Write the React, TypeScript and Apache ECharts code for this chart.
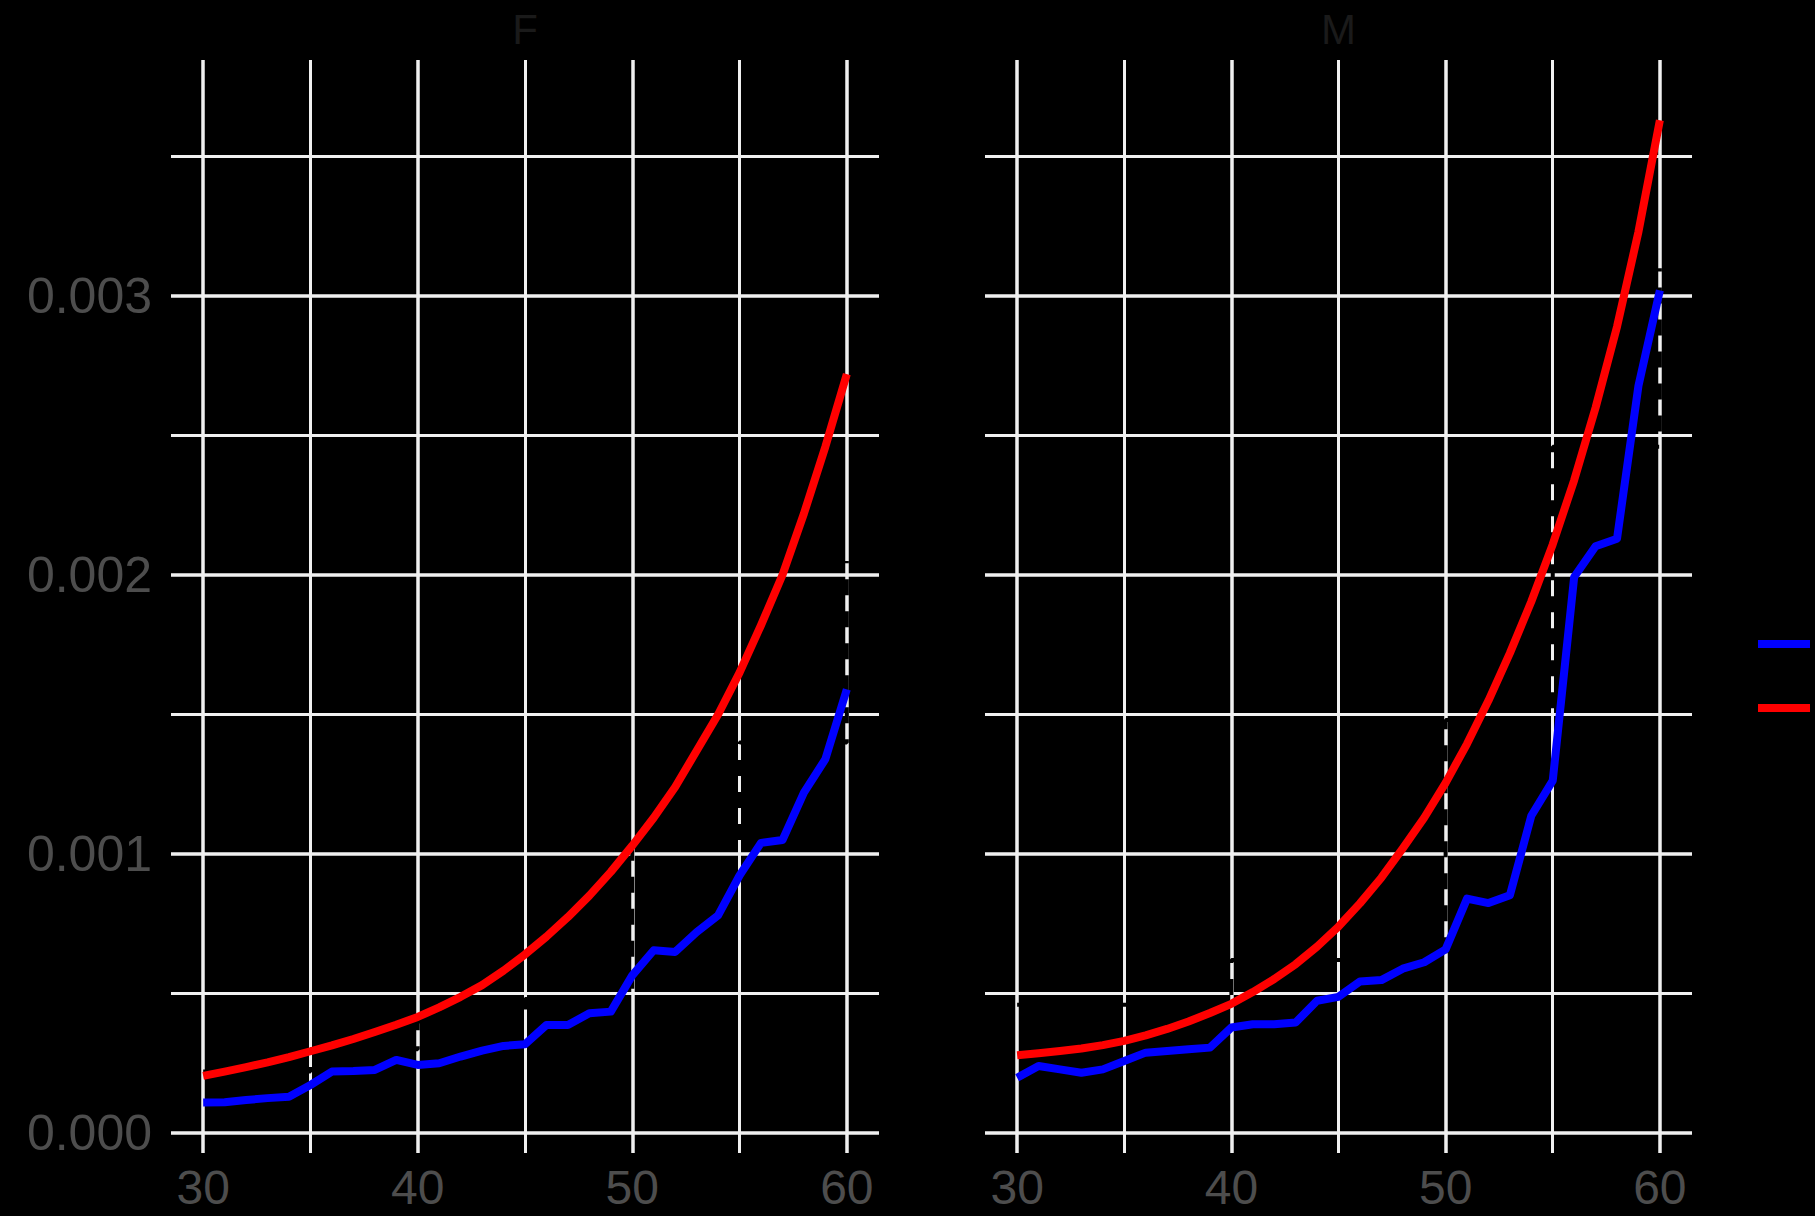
import React, { useEffect, useRef } from "react";
import * as echarts from "echarts";

// ---- data ----
const ages = [30, 31, 32, 33, 34, 35, 36, 37, 38, 39, 40, 41, 42, 43, 44, 45, 46, 47, 48, 49, 50, 51, 52, 53, 54, 55, 56, 57, 58, 59, 60];

const femaleObserved = [
  0.000109, 0.00011, 0.000118, 0.000125, 0.00013, 0.000172, 0.00022, 0.000222, 0.000226, 0.000262,
  0.000244, 0.00025, 0.000274, 0.000295, 0.000312, 0.000318, 0.000387, 0.000387, 0.000429, 0.000435,
  0.000565, 0.000655, 0.000649, 0.00072, 0.00078, 0.000923, 0.00104, 0.00105, 0.00122, 0.00134, 0.00159,
];
const femaleFitted = [
  0.000205, 0.00022, 0.000236, 0.000253, 0.000272, 0.000293, 0.000314, 0.000337, 0.000362, 0.000388,
  0.000416, 0.00045, 0.000488, 0.00053, 0.000582, 0.00064, 0.000704, 0.000774, 0.000851, 0.000936,
  0.00103, 0.00113, 0.00124, 0.00137, 0.0015, 0.00165, 0.00182, 0.002, 0.00222, 0.00246, 0.00272,
];
const maleObserved = [
  0.000198, 0.00024, 0.000228, 0.000216, 0.000228, 0.000258, 0.000288, 0.000294, 0.0003, 0.000306,
  0.000378, 0.00039, 0.00039, 0.000396, 0.000474, 0.000488, 0.000543, 0.000548, 0.000589, 0.000612,
  0.000658, 0.00084, 0.000824, 0.000852, 0.001137, 0.001263, 0.001993, 0.002103, 0.00213, 0.002678, 0.00302,
];
const maleFitted = [
  0.000279, 0.000286, 0.000294, 0.000303, 0.000315, 0.00033, 0.00035, 0.000373, 0.0004, 0.00043,
  0.000463, 0.000505, 0.000552, 0.000605, 0.000668, 0.00074, 0.000823, 0.000915, 0.00102, 0.00113,
  0.001255, 0.001395, 0.00155, 0.00172, 0.001905, 0.00211, 0.00234, 0.0026, 0.00289, 0.00323, 0.00363,
];

// black dashed step line (5-year groups)
const stepAges = [30, 35, 40, 45, 50, 55, 60];
const femaleStep = [0.00022, 0.0003, 0.0004, 0.00048, 0.00103, 0.0014, 0.00205];
const maleStep = [0.00046, 0.00046, 0.00062, 0.00062, 0.00148, 0.00246, 0.0031];

const facetNames = ["F", "M"];
const seriesNames = ["observed", "fitted"];

const xMajorTicks = [30, 40, 50, 60];
const xMinorTicks = [35, 45, 55];
const yMajorTicks = [0, 0.001, 0.002, 0.003];
const yMinorTicks = [0.0005, 0.0015, 0.0025, 0.0035];

const X_MIN = 28.5;
const X_MAX = 61.5;
const Y_MIN = -0.0000717;
const Y_MAX = 0.003846;

const FONT = "'Liberation Sans', Arial, Helvetica, sans-serif";
const LABEL_COLOR = "#4d4d4d";
const GRID_COLOR = "#f0f0f0";

function pairs(xs: number[], ys: number[]) {
  return xs.map((x, i) => [x, ys[i]]);
}

export default function App() {
  const ref = useRef<HTMLDivElement>(null);

  useEffect(() => {
    if (!ref.current) return;
    const chart = echarts.init(ref.current, undefined, { renderer: "svg" });

    const grids = [
      { left: 171, top: 60, width: 708, height: 1093 },
      { left: 985, top: 60, width: 707, height: 1093 },
    ];

    const xAxes: any[] = [];
    const yAxes: any[] = [];
    grids.forEach((_, g) => {
      xAxes.push({
        gridIndex: g,
        type: "value",
        min: X_MIN,
        max: X_MAX,
        axisLine: { show: false },
        axisTick: { show: false, customValues: xMajorTicks },
        axisLabel: {
          show: true,
          customValues: xMajorTicks,
          color: LABEL_COLOR,
          fontSize: 48,
          lineHeight: 42,
          fontFamily: FONT,
          margin: 13,
          formatter: (v: number) => String(Math.round(v)),
        },
        splitLine: { show: true, lineStyle: { color: GRID_COLOR, width: 3.5 } },
      });
      xAxes.push({
        gridIndex: g,
        type: "value",
        position: "top",
        min: X_MIN,
        max: X_MAX,
        axisLine: { show: false },
        axisTick: { show: false, customValues: xMinorTicks },
        axisLabel: { show: false },
        splitLine: { show: true, lineStyle: { color: GRID_COLOR, width: 3 } },
      });
      yAxes.push({
        gridIndex: g,
        type: "value",
        min: Y_MIN,
        max: Y_MAX,
        axisLine: { show: false },
        axisTick: { show: false, customValues: yMajorTicks },
        axisLabel: {
          show: g === 0,
          customValues: yMajorTicks,
          color: LABEL_COLOR,
          fontSize: 50,
          fontFamily: FONT,
          margin: 19,
          formatter: (v: number) => v.toFixed(3),
        },
        splitLine: { show: true, lineStyle: { color: GRID_COLOR, width: 3.5 } },
      });
      yAxes.push({
        gridIndex: g,
        type: "value",
        position: "right",
        min: Y_MIN,
        max: Y_MAX,
        axisLine: { show: false },
        axisTick: { show: false, customValues: yMinorTicks },
        axisLabel: { show: false },
        splitLine: { show: true, lineStyle: { color: GRID_COLOR, width: 3 } },
      });
    });

    const panels = [
      { observed: femaleObserved, fitted: femaleFitted, step: femaleStep },
      { observed: maleObserved, fitted: maleFitted, step: maleStep },
    ];

    const series: any[] = [];
    panels.forEach((p, g) => {
      const xi = g * 2;
      const yi = g * 2;
      series.push({
        name: "step",
        type: "line",
        xAxisIndex: xi,
        yAxisIndex: yi,
        data: pairs(stepAges, p.step),
        step: "end",
        showSymbol: false,
        symbol: "none",
        lineStyle: { color: "#000000", width: 4, type: [16, 16] },
        itemStyle: { color: "#000000" },
        z: 2,
        silent: true,
      });
      series.push({
        name: seriesNames[0],
        type: "line",
        xAxisIndex: xi,
        yAxisIndex: yi,
        data: pairs(ages, p.observed),
        showSymbol: false,
        symbol: "none",
        lineStyle: { color: "#0000ff", width: 8, join: "round", cap: "butt" },
        itemStyle: { color: "#0000ff" },
        z: 3,
        silent: true,
      });
      series.push({
        name: seriesNames[1],
        type: "line",
        xAxisIndex: xi,
        yAxisIndex: yi,
        data: pairs(ages, p.fitted),
        showSymbol: false,
        symbol: "none",
        lineStyle: { color: "#ff0000", width: 8, join: "round", cap: "butt" },
        itemStyle: { color: "#ff0000" },
        z: 4,
        silent: true,
      });
    });

    // legend keys only: the labels lie beyond the right edge of the reference
    const legendBase = {
      orient: "vertical",
      left: 1758,
      padding: 0,
      itemGap: 0,
      itemWidth: 52,
      itemHeight: 8,
      selectedMode: false,
      formatter: () => "",
      textStyle: { color: "#000000", fontSize: 7, fontFamily: FONT },
    };

    chart.setOption({
      animation: false,
      backgroundColor: "#000000",
      grid: grids,
      xAxis: xAxes,
      yAxis: yAxes,
      series,
      legend: [
        { ...legendBase, top: 640, data: [{ name: seriesNames[0], icon: "rect" }] },
        { ...legendBase, top: 704, data: [{ name: seriesNames[1], icon: "rect" }] },
      ],
      graphic: facetNames.map((name, i) => ({
        type: "text",
        x: grids[i].left + grids[i].width / 2,
        y: 29,
        style: {
          text: name,
          fill: "#1a1a1a",
          fontSize: 42,
          fontFamily: FONT,
          textAlign: "center",
          textVerticalAlign: "middle",
        },
      })),
    });

    return () => chart.dispose();
  }, []);

  return (
    <div
      ref={ref}
      style={{ position: "fixed", left: 0, top: 0, width: 1815, height: 1216, background: "#000" }}
    />
  );
}
